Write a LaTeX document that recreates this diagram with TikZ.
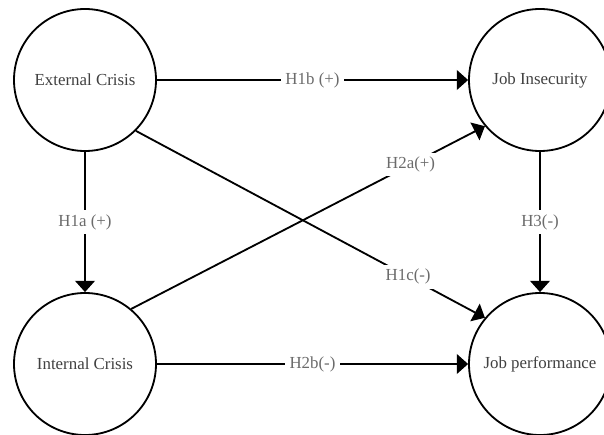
\documentclass[tikz,border=0pt]{standalone}
\usepackage{fontspec}
\setmainfont{Liberation Serif}
\usetikzlibrary{arrows.meta,positioning}

\begin{document}
\begin{tikzpicture}[font=\fontsize{12}{14}\selectfont,var/.style={draw=black,line width=1.3pt,circle,minimum size=3.55cm,inner sep=0pt,text=black!75,align=center},hyp/.style={fill=white,text=black!58,inner sep=3pt},arr/.style={line width=1.3pt,-{Triangle[length=8pt,width=14pt]}}]
\useasboundingbox (0,0) rectangle (15.1,10.85);
\node[var] (ext) at (2.125,8.85) {External Crisis};
\node[var] (int) at (2.125,1.75) {Internal Crisis};
\node[var] (jins) at (13.5,8.85) {Job Insecurity};
\node[var] (jperf) at (13.5,1.75) {Job performance};
\draw[arr] (ext)--node[hyp]{H1b (+)} (jins);
\draw[arr] (ext)--node[hyp]{H1a (+)} (int);
\draw[arr] (ext.-45)--node[hyp,pos=.78]{H1c(-)} (jperf.140);
\draw[arr] (int.50)--node[hyp,pos=.79]{H2a(+)} (jins.-140);
\draw[arr] (int)--node[hyp]{H2b(-)} (jperf);
\draw[arr] (jins)--node[hyp]{H3(-)} (jperf);
\end{tikzpicture}
\end{document}
